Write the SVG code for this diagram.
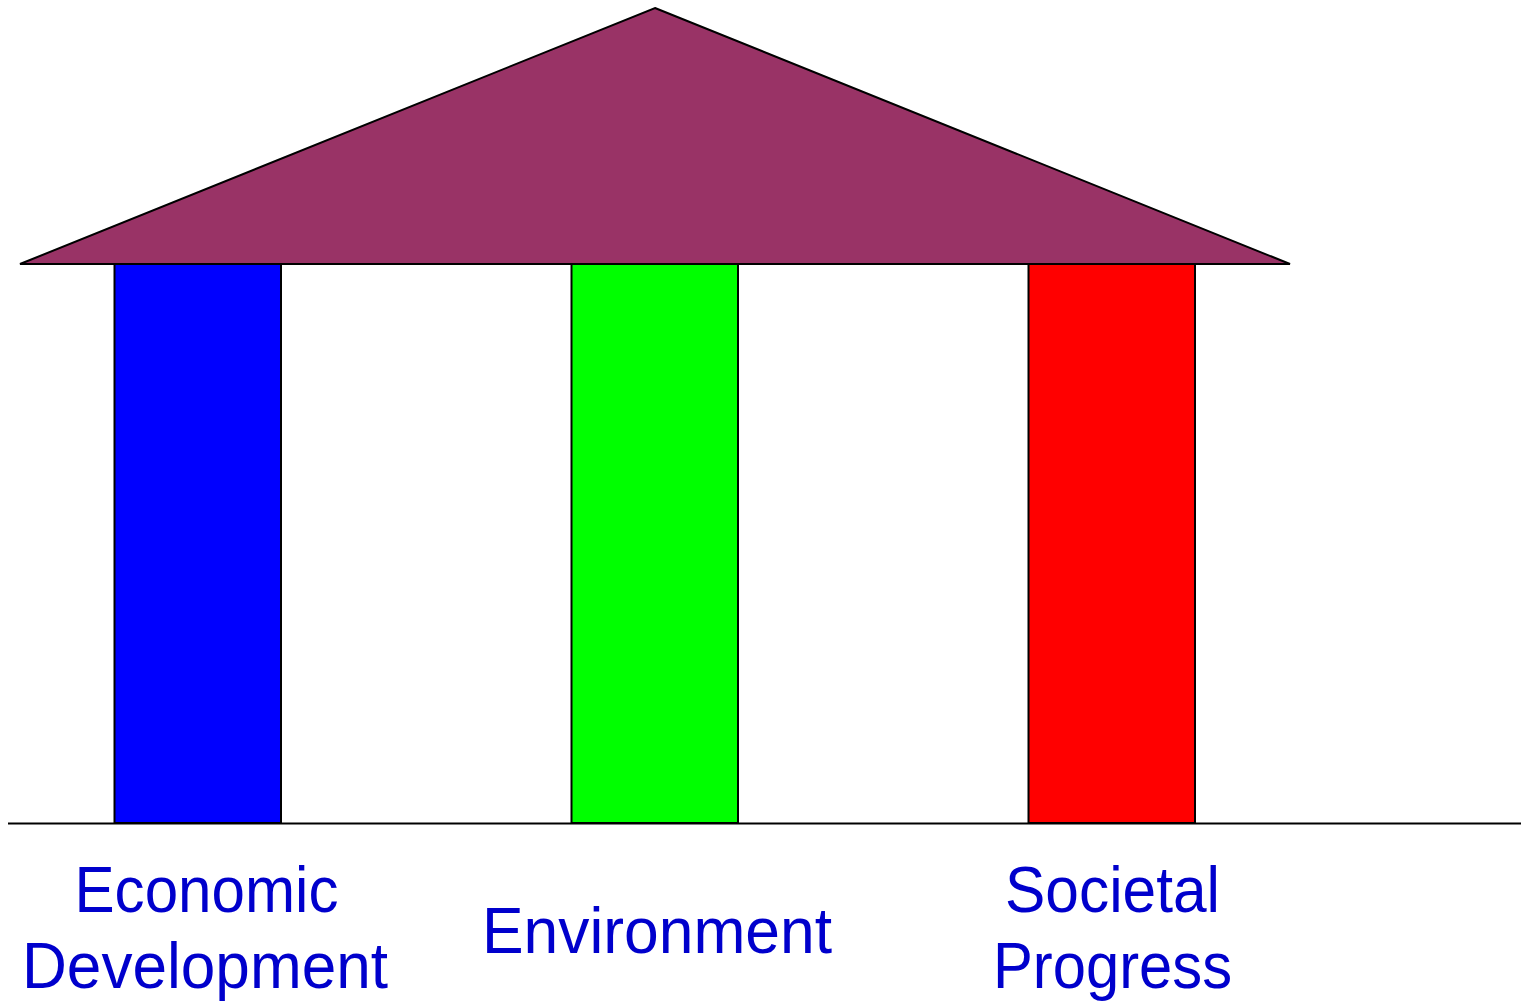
<svg xmlns="http://www.w3.org/2000/svg" width="1523" height="1003" viewBox="0 0 1523 1003">
<style>
.shape{stroke:#000;stroke-width:2}
.lbl{font-family:"Liberation Sans",Arial,sans-serif;font-size:64px;fill:#0000CC;text-anchor:middle}
</style>
<rect width="1523" height="1003" fill="#fff"/>
<g id="roof"><polygon class="shape" points="655,8 1290,264 20,264" fill="#993366"/></g>
<g id="pillar-economic"><rect class="shape" x="114.5" y="264" width="166.5" height="559" fill="#0000FF"/>
<text class="lbl" x="206.5" y="912" textLength="264" lengthAdjust="spacingAndGlyphs">Economic</text>
<text class="lbl" x="205" y="988" textLength="366" lengthAdjust="spacingAndGlyphs">Development</text></g>
<g id="pillar-environment"><rect class="shape" x="571.5" y="264" width="166.5" height="559" fill="#00FF00"/>
<text class="lbl" x="657" y="953" textLength="350" lengthAdjust="spacingAndGlyphs">Environment</text></g>
<g id="pillar-societal"><rect class="shape" x="1028.5" y="264" width="166.5" height="559" fill="#FF0000"/>
<text class="lbl" x="1112.5" y="912" textLength="215" lengthAdjust="spacingAndGlyphs">Societal</text>
<text class="lbl" x="1112.5" y="988" textLength="239" lengthAdjust="spacingAndGlyphs">Progress</text></g>
<g id="connectors"><line class="shape" x1="8" y1="823.5" x2="1521" y2="823.5"/></g>
</svg>
